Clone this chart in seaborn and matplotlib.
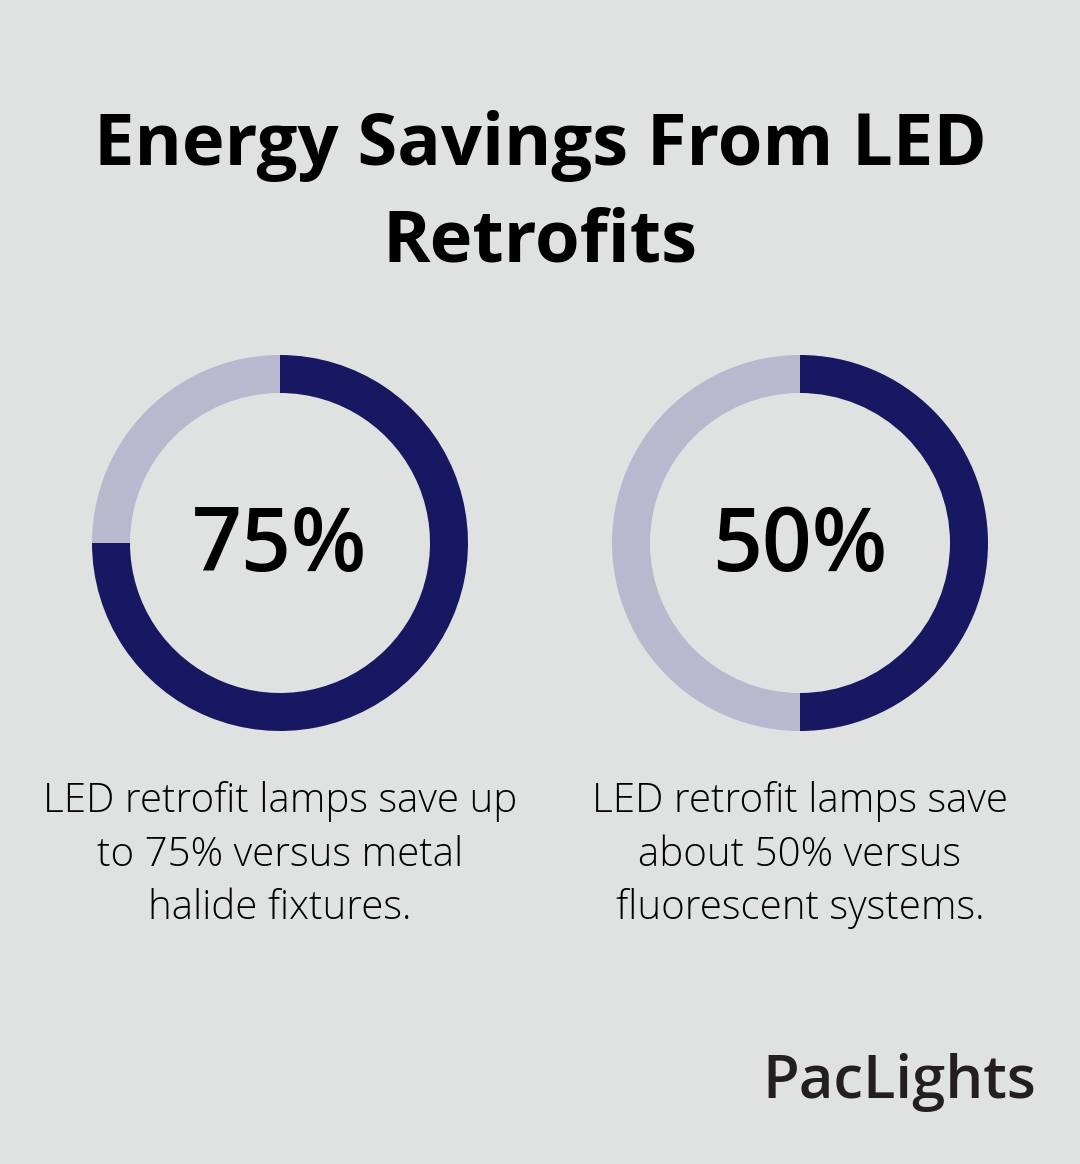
import matplotlib
matplotlib.use("Agg")
import matplotlib.pyplot as plt
import seaborn as sns

# ---- data ----
title_lines = ["Energy Savings From LED", "Retrofits"]
savings = [75, 50]
labels = ["75%", "50%"]
captions = [
    "LED retrofit lamps save up\nto 75% versus metal\nhalide fixtures.",
    "LED retrofit lamps save\nabout 50% versus\nfluorescent systems.",
]
brand = "PacLights"

BG = "#e0e2e1"
DARK = "#181761"
LIGHT = "#b8b9cf"

sns.set_theme(style="white")
plt.rcParams["font.family"] = ["Open Sans", "DejaVu Sans"]

W, H = 1080, 1164
fig = plt.figure(figsize=(W / 100, H / 100), dpi=100, facecolor=BG)
ax = fig.add_axes([0, 0, 1, 1])
ax.set_facecolor(BG)

def Y(px):
    return H - px

centers_x = [280, 800]
cy = 543
R = 188
width = 38
for cx, val, lab, cap in zip(centers_x, savings, labels, captions):
    ax.pie([val, 100 - val], colors=[DARK, LIGHT], startangle=90,
           counterclock=False, center=(cx, Y(cy)), radius=R,
           wedgeprops=dict(width=width, linewidth=0), frame=True)
    ax.text(cx, Y(cy + 4), lab, ha="center", va="center",
            fontsize=63, fontweight="semibold", color="black")
    ax.text(cx, Y(855), cap, ha="center", va="center", fontsize=29,
            fontweight="light", color="black", linespacing=1.39)

ax.set_xlim(0, W)
ax.set_ylim(0, H)
ax.set_aspect("equal")
ax.axis("off")

# title
ax.text(W / 2, Y(146), title_lines[0], ha="center", va="center",
        fontsize=52, fontweight="bold", color="black")
ax.text(W / 2, Y(243), title_lines[1], ha="center", va="center",
        fontsize=52, fontweight="bold", color="black")

ax.text(1036, Y(1083), brand, ha="right", va="center", fontsize=43,
        fontweight="semibold", color="#231f20", family=["Open Sans", "DejaVu Sans"])

fig.savefig("out.png", dpi=100, facecolor=BG)
